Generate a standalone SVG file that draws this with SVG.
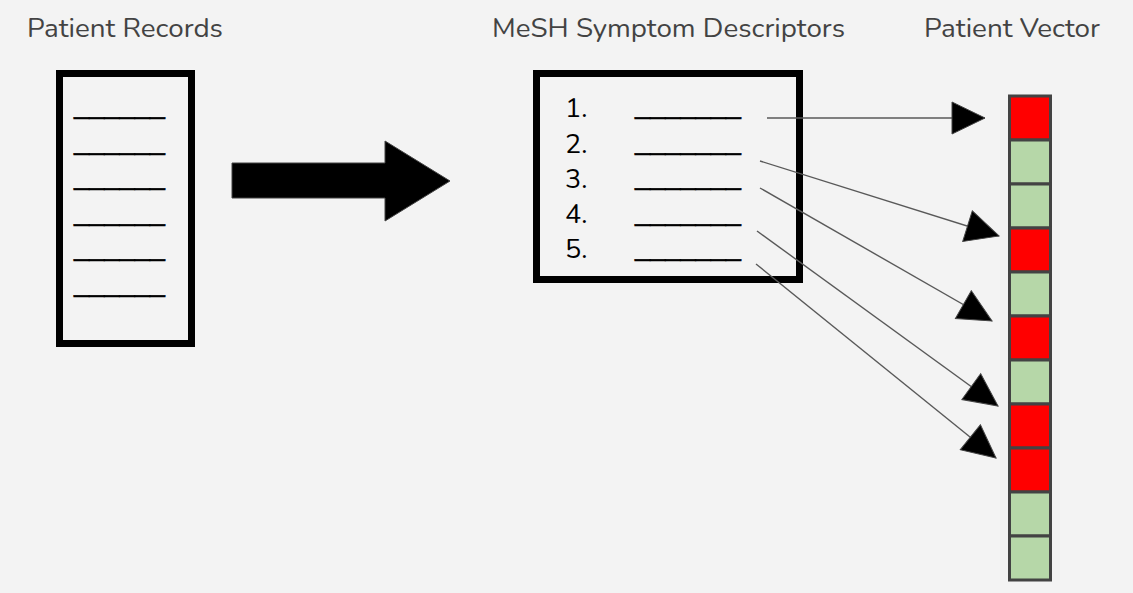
<svg xmlns="http://www.w3.org/2000/svg" width="1133" height="593" viewBox="0 0 1133 593">
<defs>
<style>
.title{font-family:"Nunito","Open Sans","Lato",sans-serif;font-size:27px;fill:#434343}
.num{font-family:"Nunito","Open Sans",sans-serif;font-size:27px;fill:#000}
.item{font-family:"Liberation Sans",Arial,sans-serif;font-size:28px;fill:#000;stroke:#000;stroke-width:0.5}
.box{fill:none;stroke:#000;stroke-width:7}
.conn{stroke:#595959;stroke-width:1.4;fill:none}
.cell{stroke:#434343;stroke-width:3}
.red{fill:#ff0000}
.green{fill:#b6d7a8}
</style>
<marker id="head" markerUnits="userSpaceOnUse" markerWidth="36" markerHeight="34" refX="33" refY="16" orient="auto" viewBox="-1 -1 36 34">
<path d="M0,0 L33,16 L0,32 Z" fill="#000" stroke="#434343" stroke-width="1"/>
</marker>
</defs>
<rect width="1133" height="593" fill="#f3f3f3"/>

<g id="title-records"><text class="title" x="27" y="37" textLength="196" lengthAdjust="spacingAndGlyphs">Patient Records</text></g>
<g id="title-mesh"><text class="title" x="492" y="37" textLength="353" lengthAdjust="spacingAndGlyphs">MeSH Symptom Descriptors</text></g>
<g id="title-vector"><text class="title" x="924" y="37" textLength="176" lengthAdjust="spacingAndGlyphs">Patient Vector</text></g>

<g id="patient-records">
<rect class="box" x="59.5" y="73.5" width="132" height="270"/>
<text class="item" x="74" y="113" textLength="91" lengthAdjust="spacingAndGlyphs">______</text>
<text class="item" x="74" y="149" textLength="91" lengthAdjust="spacingAndGlyphs">______</text>
<text class="item" x="74" y="184" textLength="91" lengthAdjust="spacingAndGlyphs">______</text>
<text class="item" x="74" y="220" textLength="91" lengthAdjust="spacingAndGlyphs">______</text>
<text class="item" x="74" y="255" textLength="91" lengthAdjust="spacingAndGlyphs">______</text>
<text class="item" x="74" y="291" textLength="91" lengthAdjust="spacingAndGlyphs">______</text>
</g>

<g id="big-arrow">
<path d="M232,163 L385,163 L385,141 L450,181 L385,221 L385,198 L232,198 Z" fill="#000" stroke="#434343" stroke-width="1"/>
</g>

<g id="mesh-descriptors">
<rect class="box" x="536.5" y="73.5" width="263" height="206"/>
<text class="num" x="565" y="117">1.</text>
<text class="num" x="565" y="153">2.</text>
<text class="num" x="565" y="188">3.</text>
<text class="num" x="565" y="223">4.</text>
<text class="num" x="565" y="258">5.</text>
<text class="item" x="635" y="113" textLength="106" lengthAdjust="spacingAndGlyphs">_______</text>
<text class="item" x="635" y="149" textLength="106" lengthAdjust="spacingAndGlyphs">_______</text>
<text class="item" x="635" y="184" textLength="106" lengthAdjust="spacingAndGlyphs">_______</text>
<text class="item" x="635" y="220" textLength="106" lengthAdjust="spacingAndGlyphs">_______</text>
<text class="item" x="635" y="255" textLength="106" lengthAdjust="spacingAndGlyphs">_______</text>
</g>

<g id="patient-vector">
<rect class="cell red" x="1009.5" y="96" width="41" height="44"/>
<rect class="cell green" x="1009.5" y="140" width="41" height="44"/>
<rect class="cell green" x="1009.5" y="184" width="41" height="44"/>
<rect class="cell red" x="1009.5" y="228" width="41" height="44"/>
<rect class="cell green" x="1009.5" y="272" width="41" height="44"/>
<rect class="cell red" x="1009.5" y="316" width="41" height="44"/>
<rect class="cell green" x="1009.5" y="360" width="41" height="44"/>
<rect class="cell red" x="1009.5" y="404" width="41" height="44"/>
<rect class="cell red" x="1009.5" y="448" width="41" height="44"/>
<rect class="cell green" x="1009.5" y="492" width="41" height="44"/>
<rect class="cell green" x="1009.5" y="536" width="41" height="44"/>
</g>

<g id="connectors">
<line class="conn" x1="767" y1="118" x2="985" y2="118" marker-end="url(#head)"/>
<line class="conn" x1="760" y1="161" x2="999" y2="236" marker-end="url(#head)"/>
<line class="conn" x1="760" y1="188" x2="992" y2="321" marker-end="url(#head)"/>
<line class="conn" x1="757" y1="231" x2="998" y2="406" marker-end="url(#head)"/>
<line class="conn" x1="756" y1="264" x2="996" y2="458" marker-end="url(#head)"/>
</g>
</svg>
